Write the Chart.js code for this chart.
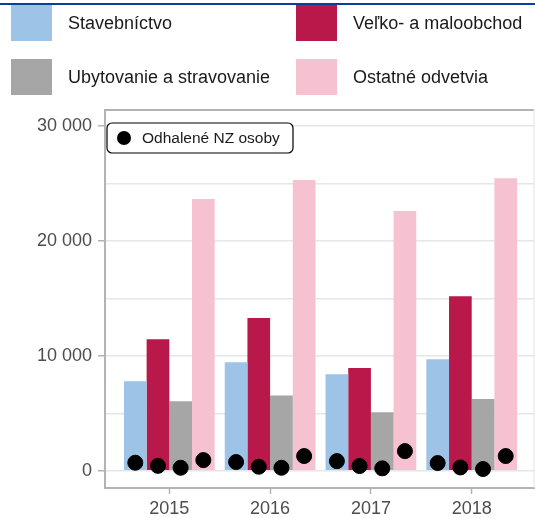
<!DOCTYPE html>
<html lang="sk">
<head>
<meta charset="utf-8">
<script src="https://cdn.jsdelivr.net/npm/chart.js@4/dist/chart.umd.min.js"></script>
<style>
  html, body { margin: 0; padding: 0; background: #fff; }
  #wrap { position: relative; width: 535px; height: 518px; overflow: hidden; font-family: "Liberation Sans", Arial, sans-serif; }
  #topLine { position: absolute; left: 0; top: 3px; width: 535px; height: 2px; background: #0b3d9c; }
  #legenda { position: absolute; left: 0; top: 0; width: 535px; }
  .leg-item { position: absolute; display: flex; align-items: center; font-size: 18px; color: #1a1a1a; white-space: nowrap; }
  .leg-box { width: 41px; height: 36px; margin-right: 16px; }
  canvas { position: absolute; left: 0; top: 0; }
</style>
</head>
<body>
<div id="wrap">
  <canvas id="grafNZ" width="535" height="518"></canvas>
  <div id="topLine"></div>
  <div id="legenda"></div>
</div>
<script>
const roky = [2015, 2016, 2017, 2018];
const odvetvia = ["Stavebníctvo", "Veľko- a maloobchod", "Ubytovanie a stravovanie", "Ostatné odvetvia"];
const farby = ["#9dc3e6", "#b8194a", "#a6a6a6", "#f6c1d1"];

// kontrolované osoby podľa odvetví
const stavebnictvo = [7800, 9450, 8400, 9700];
const obchod = [11450, 13300, 8950, 15200];
const ubytovanie = [6050, 6550, 5100, 6250];
const ostatne = [23650, 25300, 22600, 25450];

// odhalené NZ osoby podľa odvetví
const nzStavebnictvo = [700, 760, 840, 670];
const nzObchod = [430, 350, 410, 290];
const nzUbytovanie = [260, 260, 210, 150];
const nzOstatne = [930, 1280, 1710, 1280];

const osY = [0, 5000, 10000, 15000, 20000, 25000, 30000];
const percentoSkupiny = 0.9;

const hodnoty = [stavebnictvo, obchod, ubytovanie, ostatne];
const hodnotyNZ = [nzStavebnictvo, nzObchod, nzUbytovanie, nzOstatne];

function formatTisice(v) {
  return String(v).replace(/\B(?=(\d{3})+(?!\d))/g, " ");
}

// legenda hore (dva stĺpce)
const legenda = document.getElementById("legenda");
const polohy = [[11, 5], [296, 5], [11, 59], [296, 59]];
legenda.innerHTML = odvetvia.map((nazov, i) => `
  <div class="leg-item" style="left:${polohy[i][0]}px;top:${polohy[i][1]}px">
    <div class="leg-box" style="background:${farby[i]}"></div>${nazov}
  </div>
`).join("");

const stlpce = odvetvia.map((nazov, s) => ({
  type: "bar",
  label: nazov,
  data: roky.map((rok, i) => ({ x: rok, y: hodnoty[s][i] })),
  backgroundColor: farby[s],
  borderWidth: 0,
  categoryPercentage: percentoSkupiny,
  barPercentage: 1,
  order: 2
}));

// bodky sú posunuté na stred príslušného stĺpca
const bodky = [];
hodnotyNZ.forEach((rad, s) => {
  rad.forEach((v, i) => {
    bodky.push({ x: roky[i] + (s - 1.5) * percentoSkupiny / odvetvia.length, y: v });
  });
});

const vnutornaLegenda = {
  id: "vnutornaLegenda",
  afterDraw(chart) {
    const { ctx, chartArea } = chart;
    ctx.save();
    // horný a pravý okraj panelu
    ctx.strokeStyle = "#b3b3b3";
    ctx.lineWidth = 2;
    ctx.beginPath();
    ctx.moveTo(chartArea.left, chartArea.top);
    ctx.lineTo(chartArea.right, chartArea.top);
    ctx.stroke();
    ctx.strokeStyle = "#e3e3e3";
    ctx.lineWidth = 1;
    ctx.beginPath();
    ctx.moveTo(chartArea.right, chartArea.top);
    ctx.lineTo(chartArea.right, chartArea.bottom);
    ctx.stroke();

    const x = chartArea.left + 2, y = chartArea.top + 13, w = 186, h = 30;
    ctx.fillStyle = "#fff";
    ctx.strokeStyle = "#000";
    ctx.lineWidth = 1.2;
    ctx.beginPath();
    ctx.roundRect(x, y, w, h, 5);
    ctx.fill();
    ctx.stroke();
    ctx.fillStyle = "#000";
    ctx.beginPath();
    ctx.arc(x + 17, y + h / 2, 7, 0, Math.PI * 2);
    ctx.fill();
    ctx.font = '15.5px "Liberation Sans", Arial, sans-serif';
    ctx.textBaseline = "middle";
    ctx.fillStyle = "#1a1a1a";
    ctx.fillText(chart.data.datasets[4].label, x + 35, y + h / 2 + 1);
    ctx.restore();
  }
};

// okraje osí bez automatickej rezervy pre krajné popisky
function bezRezervy(scale) {
  scale.paddingLeft = 0;
  scale.paddingRight = 0;
  scale.paddingTop = 0;
  scale.paddingBottom = 0;
}

new Chart(document.getElementById("grafNZ"), {
  type: "bar",
  data: {
    datasets: [
      ...stlpce,
      {
        type: "scatter",
        label: "Odhalené NZ osoby",
        data: bodky,
        backgroundColor: "#000",
        borderColor: "#000",
        pointRadius: 7.5,
        pointHoverRadius: 7.5,
        order: 1
      }
    ]
  },
  options: {
    responsive: false,
    animation: false,
    layout: { autoPadding: false, padding: { top: 110, right: 1, left: 0, bottom: 0 } },
    plugins: { legend: { display: false }, tooltip: { enabled: false } },
    scales: {
      x: {
        type: "linear",
        offset: false,
        min: 2014.362,
        max: 2018.618,
        afterBuildTicks(scale) { scale.ticks = roky.map(v => ({ value: v })); },
        afterFit(scale) { scale.height = 30; bezRezervy(scale); },
        grid: { offset: false, drawOnChartArea: false, tickLength: 6, tickColor: "#b3b3b3", tickWidth: 1.5 },
        border: { display: true, color: "#b3b3b3", width: 2 },
        ticks: {
          autoSkip: false,
          maxRotation: 0,
          padding: 4,
          color: "#4d4d4d",
          font: { family: '"Liberation Sans", Arial, sans-serif', size: 18 },
          callback: v => String(v)
        }
      },
      y: {
        min: -1500,
        max: 31400,
        afterBuildTicks(scale) { scale.ticks = osY.map(v => ({ value: v })); },
        afterFit(scale) { scale.width = 105; bezRezervy(scale); },
        grid: {
          color: "#e6e6e6",
          lineWidth: 1.5,
          tickLength: 7,
          tickWidth: 1.5,
          tickColor: ctx => (ctx.tick && ctx.tick.value % 10000 === 0 ? "#b3b3b3" : "rgba(0,0,0,0)")
        },
        border: { display: true, color: "#b3b3b3", width: 2 },
        ticks: {
          autoSkip: false,
          padding: 6,
          color: "#4d4d4d",
          font: { family: '"Liberation Sans", Arial, sans-serif', size: 18 },
          callback: v => (v % 10000 === 0 ? formatTisice(v) : "")
        }
      }
    }
  },
  plugins: [vnutornaLegenda]
});
</script>
</body>
</html>
